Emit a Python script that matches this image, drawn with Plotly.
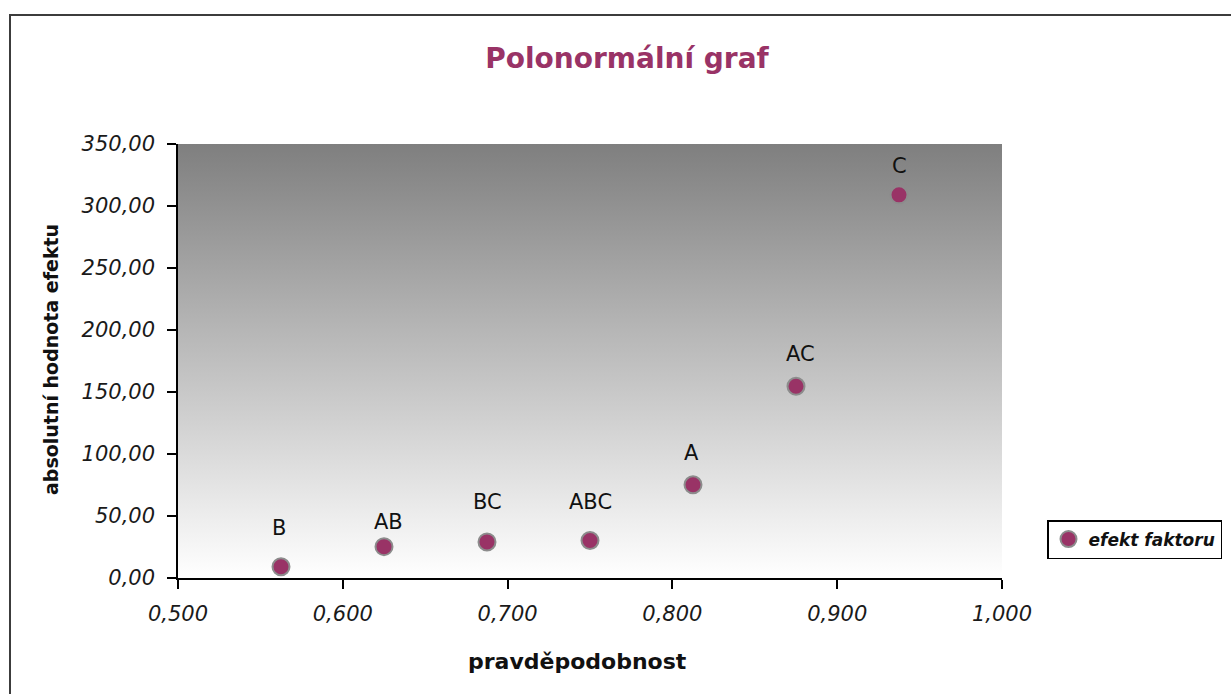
import plotly.graph_objects as go

# Half-normal plot of factor effects (2^3 design)
effects = ["B", "AB", "BC", "ABC", "A", "AC", "C"]
probability = [0.5625, 0.625, 0.6875, 0.75, 0.8125, 0.875, 0.9375]
abs_effect = [9.1, 25.3, 29.1, 30.2, 75.2, 154.6, 309.0]

x_ticks = [0.5, 0.6, 0.7, 0.8, 0.9, 1.0]
y_ticks = [0, 50, 100, 150, 200, 250, 300, 350]
x_range = [0.5, 1.0]
y_range = [0, 350]

# pixel offsets of each data label relative to its point
label_dx = [-2, 4, 0, 0, -2, 4, 0]
label_dy = [39, 25, 40, 39, 32, 32, 29]

W, H = 1231, 694
ML, MR, MT, MB = 178, 229, 144, 116
PW = W - ML - MR
PH = H - MT - MB


def px_to_paper_x(px):
    return (px - ML) / PW


def px_to_paper_y(py):
    return (H - MB - py) / PH


PLUM = "#993366"
tick_font = dict(family="DejaVu Sans", size=21, color="#1a1a1a", style="italic")
bold_font = "DejaVu Sans"

fig = go.Figure()

# Grey-to-white gradient behind the data
fig.add_trace(go.Scatter(
    x=[x_range[0], x_range[1], x_range[1], x_range[0], x_range[0]],
    y=[y_range[0], y_range[0], y_range[1], y_range[1], y_range[0]],
    mode="none",
    fill="toself",
    fillgradient=dict(type="vertical",
                      colorscale=[[0, "#ffffff"], [1, "#7f7f7f"]]),
    showlegend=False,
    hoverinfo="skip",
))

fig.add_trace(go.Scatter(
    x=probability,
    y=abs_effect,
    mode="markers",
    name="efekt faktoru",
    marker=dict(size=17, color=PLUM, line=dict(color="#8c8c8c", width=2)),
))

annotations = []
for name, px, val, dx, dy in zip(effects, probability, abs_effect, label_dx, label_dy):
    annotations.append(dict(
        x=px, y=val, xref="x", yref="y", text=name, showarrow=False,
        xshift=dx, yshift=dy,
        font=dict(family="DejaVu Sans", size=21, color="#111111"),
    ))

annotations.append(dict(
    x=px_to_paper_x(51), y=px_to_paper_y(360), xref="paper", yref="paper",
    text="<b>absolutní hodnota efektu</b>", textangle=-90, showarrow=False,
    xanchor="center", yanchor="middle",
    font=dict(family=bold_font, size=19, color="#111111"),
))
annotations.append(dict(
    x=px_to_paper_x(577), y=px_to_paper_y(661), xref="paper", yref="paper",
    text="<b>pravděpodobnost</b>", showarrow=False,
    xanchor="center", yanchor="middle",
    font=dict(family=bold_font, size=22, color="#111111"),
))

fig.update_layout(
    width=W, height=H,
    margin=dict(l=ML, r=MR, t=MT, b=MB, autoexpand=False),
    paper_bgcolor="white",
    plot_bgcolor="rgba(0,0,0,0)",
    separators=", ",
    title=dict(
        text="<b>Polonormální graf</b>",
        x=px_to_paper_x(627), xref="paper", xanchor="center",
        y=1 - 58 / H, yanchor="middle",
        font=dict(family=bold_font, size=28, color=PLUM),
    ),
    xaxis=dict(
        range=x_range, tickvals=x_ticks, tickformat=".3f",
        showgrid=False, zeroline=False,
        showline=True, linecolor="black", linewidth=1.5,
        ticks="outside", ticklen=9, tickwidth=1.5, tickcolor="black",
        tickfont=tick_font, ticklabelstandoff=7,
    ),
    yaxis=dict(
        range=y_range, tickvals=y_ticks, tickformat=".2f",
        showgrid=False, zeroline=False,
        showline=True, linecolor="black", linewidth=1.5,
        ticks="outside", ticklen=9, tickwidth=1.5, tickcolor="black",
        tickfont=tick_font, ticklabelstandoff=8,
    ),
    legend=dict(
        x=px_to_paper_x(1047), y=px_to_paper_y(520),
        xanchor="left", yanchor="top",
        bgcolor="white", bordercolor="black", borderwidth=1.5,
        font=dict(family="DejaVu Sans", size=17, color="#111111",
                  style="italic", weight="bold"),
        itemwidth=30,
    ),
    annotations=annotations,
    shapes=[dict(
        type="rect", xref="paper", yref="paper",
        x0=px_to_paper_x(10), x1=1.4,
        y0=-0.5, y1=px_to_paper_y(15),
        line=dict(color="#3c3c3c", width=2),
        fillcolor="rgba(0,0,0,0)", layer="below",
    )],
)

fig.write_html("out.html")
